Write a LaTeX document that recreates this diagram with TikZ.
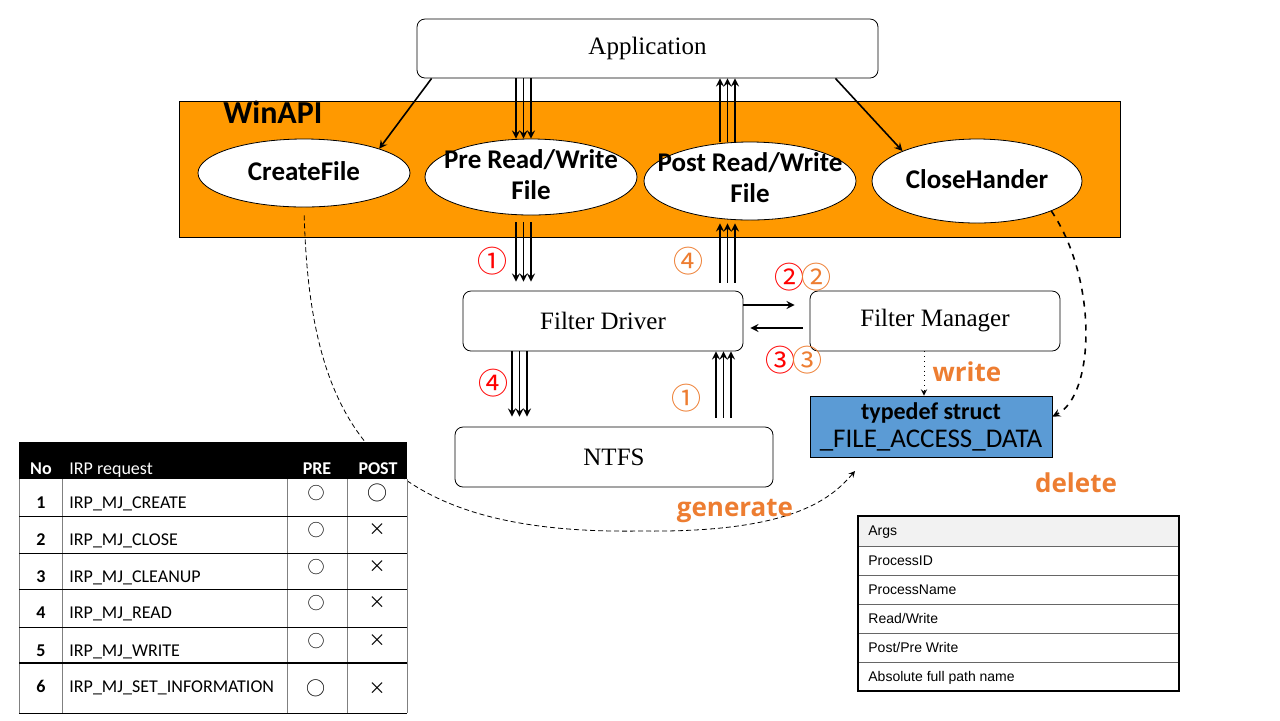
\documentclass[tikz,border=0pt]{standalone}
\usepackage{fontspec}
\setmainfont{Liberation Serif}
\newfontfamily\calfont{Carlito}
\newfontfamily\arialfont{Liberation Sans}
\newfontfamily\memofont{Open Sans}
\newfontfamily\cjkfont{Noto Sans CJK JP}
\usepackage{tikz}
\usetikzlibrary{shapes,arrows,positioning,calc}
\definecolor{apiorange}{RGB}{255,153,0}
\definecolor{memoorange}{RGB}{237,125,49}
\definecolor{structblue}{RGB}{91,155,213}
\definecolor{headgray}{RGB}{242,242,242}

\begin{document}
\begin{tikzpicture}[x=0.5pt, y=-0.5pt,
    block/.style={rectangle, draw, fill=white, rounded corners=4pt, inner sep=0pt, font=\fontsize{12.5}{15}\selectfont},
    api/.style={ellipse, draw, fill=white, inner sep=0pt},
    apitext/.style={align=center, inner sep=0pt, font=\calfont\bfseries\fontsize{13.5}{15.5}\selectfont},
    arrow/.style={thick,->,>=stealth},
    circnum/.style={inner sep=0pt, font=\cjkfont\fontsize{15}{17}\selectfont},
    memo/.style={anchor=mid, inner sep=0pt, text=memoorange, font=\memofont\bfseries\fontsize{13}{15}\selectfont},
    headcell/.style={anchor=mid, inner sep=0pt, text=white, font=\calfont\bfseries\fontsize{9}{11}\selectfont},
    cellno/.style={anchor=mid, inner sep=0pt, font=\calfont\bfseries\fontsize{9}{11}\selectfont},
    cell/.style={anchor=mid west, inner sep=0pt, font=\calfont\fontsize{9}{11}\selectfont},
    sym/.style={inner sep=0pt, font=\cjkfont\fontsize{8.5}{10}\selectfont},
    argcell/.style={anchor=mid west, inner sep=0pt, font=\arialfont\fontsize{7}{9}\selectfont}]

    \useasboundingbox (0,0) rectangle (1280,720);

    \node[draw, fill=apiorange, minimum width=470.5pt, minimum height=68pt, inner sep=0pt] (winapi) at (649.5,169) {};
    \node[anchor=mid west, inner sep=0pt, font=\calfont\bfseries\fontsize{16}{18}\selectfont] (winapilabel) at (223,119) {WinAPI};

    \node[block, minimum width=230.5pt, minimum height=29.5pt] (app) at (647.5,48.5) {Application};
    \node[api, minimum width=106pt, minimum height=34pt] (create) at (304,173) {};
    \node[api, minimum width=106pt, minimum height=38pt] (pre) at (531,177) {};
    \node[api, minimum width=106pt, minimum height=39pt] (post) at (750,181) {};
    \node[api, minimum width=105pt, minimum height=42pt] (close) at (977,181) {};
    \node[apitext] (createtext) at (304,171) {CreateFile};
    \node[apitext] (pretext) at (531,175) {Pre Read/Write\\File};
    \node[apitext] (posttext) at (750,178) {Post Read/Write\\File};
    \node[apitext] (closetext) at (977,179) {CloseHander};

    \node[block, minimum width=140pt, minimum height=30pt] (filter) at (603,321) {Filter Driver};
    \node[block, minimum width=125pt, minimum height=30pt] (manager) at (935,321) {Filter Manager};
    \node[block, minimum width=159pt, minimum height=30pt] (ntfs) at (614,457) {NTFS};
    \node[draw, fill=structblue, minimum width=121pt, minimum height=30.5pt, inner sep=0pt, align=center, font=\calfont\bfseries\fontsize{12}{14}\selectfont] (struct) at (931,426.5) {typedef struct\\{\mdseries\fontsize{13.5}{14}\selectfont\_FILE\_ACCESS\_DATA}};
    \coordinate (gentip) at (855,471);

    \draw[arrow] ([xshift=7.5pt]app.south west) -- (create.north east);
    \draw[arrow] ([xshift=-21.5pt]app.south east) -- (close.north west);
    \draw[arrow] (516,0 |- app.south) -- (516,0 |- pre.north);
    \draw[arrow] (523.5,0 |- app.south) -- (523.5,0 |- pre.north);
    \draw[arrow] (531,0 |- app.south) -- (531,0 |- pre.north);
    \draw[arrow] (720,0 |- post.north) -- (720,0 |- app.south);
    \draw[arrow] (727.5,0 |- post.north) -- (727.5,0 |- app.south);
    \draw[arrow] (735,0 |- post.north) -- (735,0 |- app.south);

    \draw[arrow, shorten <=3.5pt, shorten >=4.5pt] (516,0 |- pre.south) -- (516,0 |- filter.north);
    \draw[arrow, shorten <=3.5pt, shorten >=4.5pt] (523.5,0 |- pre.south) -- (523.5,0 |- filter.north);
    \draw[arrow, shorten <=3.5pt, shorten >=4.5pt] (531,0 |- pre.south) -- (531,0 |- filter.north);
    \draw[arrow, shorten <=4pt, shorten >=1.5pt] (720,0 |- filter.north) -- (720,0 |- post.south);
    \draw[arrow, shorten <=4pt, shorten >=1.5pt] (727.5,0 |- filter.north) -- (727.5,0 |- post.south);
    \draw[arrow, shorten <=4pt, shorten >=1.5pt] (735,0 |- filter.north) -- (735,0 |- post.south);
    \draw[arrow, shorten >=5pt] (512,0 |- filter.south) -- (512,0 |- ntfs.north);
    \draw[arrow, shorten >=5pt] (519.5,0 |- filter.south) -- (519.5,0 |- ntfs.north);
    \draw[arrow, shorten >=5pt] (527,0 |- filter.south) -- (527,0 |- ntfs.north);
    \draw[arrow, shorten <=4.5pt] (716,0 |- ntfs.north) -- (716,0 |- filter.south);
    \draw[arrow, shorten <=4.5pt] (723.5,0 |- ntfs.north) -- (723.5,0 |- filter.south);
    \draw[arrow, shorten <=4.5pt] (731,0 |- ntfs.north) -- (731,0 |- filter.south);
    \draw[arrow, shorten >=7.5pt] (filter.east |- 0,305) -- (manager.west |- 0,305);
    \draw[arrow, shorten <=3.5pt, shorten >=3.5pt] (manager.west |- 0,328) -- (filter.east |- 0,328);

    \draw[->, >=stealth, dotted] (924,0 |- manager.south) -- (924,0 |- struct.north);
    \draw[->, >=stealth, dashed, thick] (close.-22) .. controls (1098,280) and (1095,395) .. ([yshift=5pt]struct.east);
    \draw[->, >=stealth, dash pattern=on 2.5pt off 1.5pt, shorten <=4pt] (create.south) .. controls (310,430) and (380,535) .. (640,531) .. controls (790,533) and (830,500) .. (gentip);

    \node[circnum, text=red] (red1) at (492,261) {①};
    \node[circnum, text=memoorange] (org4) at (688,261) {④};
    \node[circnum, text=red] (red2) at (789,277) {②};
    \node[circnum, text=memoorange] (org2) at (816,277) {②};
    \node[circnum, text=red] (red3) at (780,360) {③};
    \node[circnum, text=memoorange] (org3) at (807,360) {③};
    \node[circnum, text=red] (red4) at (493,383) {④};
    \node[circnum, text=memoorange] (org1) at (686,398) {①};

    \node[memo] (write) at (967,377) {write};
    \node[memo] (delete) at (1076,488) {delete};
    \node[memo] (generate) at (735,512) {generate};

    \fill (19,442) rectangle (407,479);
    \node[headcell] (hno) at (41,470) {No};
    \node[headcell, anchor=mid west, font=\calfont\fontsize{9}{11}\selectfont] (hirp) at (69,470) {IRP request};
    \node[headcell] (hpre) at (317,470) {PRE};
    \node[headcell] (hpost) at (378,470) {POST};
    \draw[black!50] (19,479) -- (19,713);
    \draw[black!50] (62,479) -- (62,713);
    \draw[black!50] (287,479) -- (287,713);
    \draw[black!50] (347,479) -- (347,713);
    \draw[black!50] (407,479) -- (407,713);
    \draw (19,516) -- (407,516);
    \draw (19,553) -- (407,553);
    \draw (19,589) -- (407,589);
    \draw (19,627) -- (407,627);
    \draw[line width=1pt] (19,663) -- (407,663);
    \draw (19,713) -- (407,713);

    \node[cellno] (no1) at (41,504) {1};
    \node[cell] (irp1) at (69,504) {IRP\_MJ\_CREATE};
    \node[sym] (pre1) at (316,493) {○};
    \node[sym, font=\cjkfont\fontsize{10}{12}\selectfont] (post1) at (377,493) {○};
    \node[cellno] (no2) at (41,541) {2};
    \node[cell] (irp2) at (69,541) {IRP\_MJ\_CLOSE};
    \node[sym] (pre2) at (316,530) {○};
    \node[sym] (post2) at (377,530) {×};
    \node[cellno] (no3) at (41,578) {3};
    \node[cell] (irp3) at (69,578) {IRP\_MJ\_CLEANUP};
    \node[sym] (pre3) at (316,567) {○};
    \node[sym] (post3) at (377,567) {×};
    \node[cellno] (no4) at (41,614) {4};
    \node[cell] (irp4) at (69,614) {IRP\_MJ\_READ};
    \node[sym] (pre4) at (316,603) {○};
    \node[sym] (post4) at (377,603) {×};
    \node[cellno] (no5) at (41,652) {5};
    \node[cell] (irp5) at (69,652) {IRP\_MJ\_WRITE};
    \node[sym] (pre5) at (316,641) {○};
    \node[sym] (post5) at (377,641) {×};
    \node[cellno] (no6) at (41,688) {6};
    \node[cell] (irp6) at (69,688) {IRP\_MJ\_SET\_INFORMATION};
    \node[sym, font=\cjkfont\fontsize{9.5}{11}\selectfont] (pre6) at (316,688) {○};
    \node[sym] (post6) at (377,689) {×};

    \fill[headgray] (858,516) rectangle (1179,546);
    \draw[black!60] (858,546) -- (1179,546);
    \draw[black!60] (858,575) -- (1179,575);
    \draw[black!60] (858,604) -- (1179,604);
    \draw[black!60] (858,633) -- (1179,633);
    \draw[black!60] (858,662) -- (1179,662);
    \draw[line width=1pt] (858,516) rectangle (1179,691);
    \node[argcell] (args) at (868,531) {Args};
    \node[argcell] (pid) at (868,560.5) {ProcessID};
    \node[argcell] (pname) at (868,589.5) {ProcessName};
    \node[argcell] (rw) at (868,618.5) {Read/Write};
    \node[argcell] (prepost) at (868,647.5) {Post/Pre Write};
    \node[argcell] (fullpath) at (868,676.5) {Absolute full path name};
\end{tikzpicture}
\end{document}
